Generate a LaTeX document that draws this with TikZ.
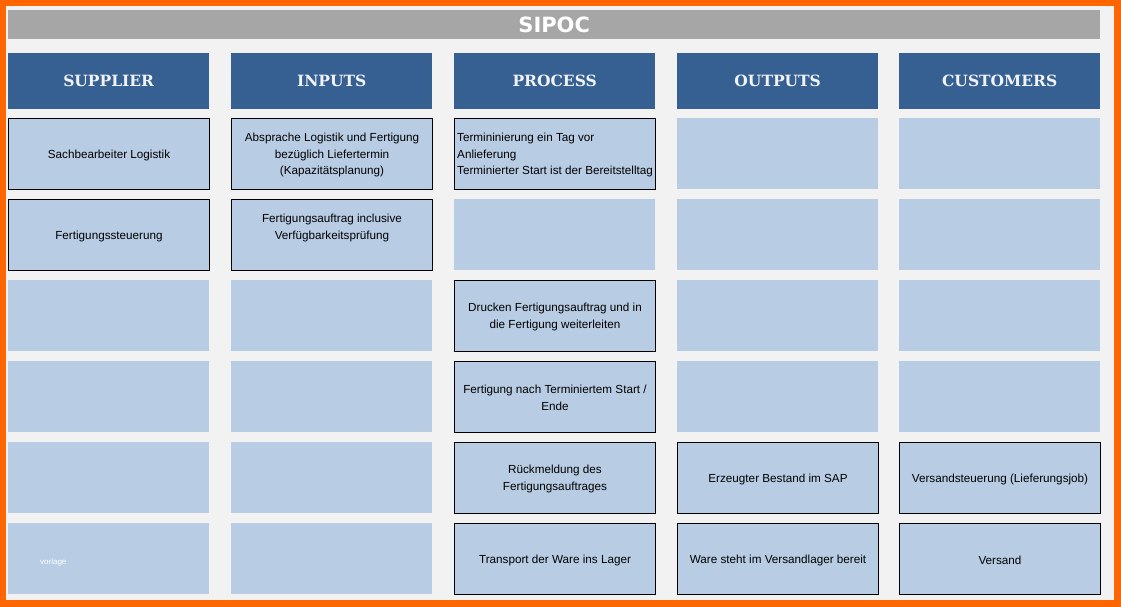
\documentclass[tikz,border=0pt]{standalone}
\usepackage{fontspec}
\setmainfont{Liberation Sans}
\newfontfamily\hdrfont{DejaVu Serif}
\newfontfamily\ttlfont{DejaVu Sans}
\definecolor{orangeb}{RGB}{255,102,0}
\definecolor{bgc}{RGB}{242,242,242}
\definecolor{titlec}{RGB}{166,166,166}
\definecolor{hdrc}{RGB}{55,96,146}
\definecolor{cellc}{RGB}{184,204,228}
\definecolor{hdrtxt}{RGB}{240,244,250}
\begin{document}
\begin{tikzpicture}[x=1pt,y=-1pt,
  hdr/.style={fill=hdrc,draw=none,minimum width=201pt,minimum height=56pt,inner sep=0pt,anchor=north west,
    text=hdrtxt,font=\hdrfont\bfseries\fontsize{15.5}{17}\selectfont},
  cell/.style={fill=cellc,draw=none,minimum width=201pt,minimum height=71pt,inner sep=0pt,anchor=north west},
  bcell/.style={cell,draw=black,line width=1pt},
  txt/.style={font=\fontsize{11.7}{16.5}\selectfont,align=center,text=black,inner sep=0pt}]
\useasboundingbox (0,0) rectangle (1121,607);
\fill[orangeb] (0,0) rectangle (1121,607);
\fill[bgc] (6,6) rectangle (1114,600);
% title
\node[fill=titlec,minimum width=1092pt,minimum height=29pt,inner sep=0pt,anchor=north west,
  text=white,font=\ttlfont\bfseries\fontsize{21}{22}\selectfont] (title) at (8,10) {SIPOC};
% headers
\node[hdr] (h1) at (8,53) {SUPPLIER};
\node[hdr] (h2) at (231,53) {INPUTS};
\node[hdr] (h3) at (454,53) {PROCESS};
\node[hdr] (h4) at (677,53) {OUTPUTS};
\node[hdr] (h5) at (899,53) {CUSTOMERS};
% row 1
\node[bcell] (c11) at (8,118) {};
\node[bcell] (c12) at (231,118) {};
\node[bcell] (c13) at (454,118) {};
\node[cell] (c14) at (677,118) {};
\node[cell] (c15) at (899,118) {};
% row 2
\node[bcell] (c21) at (8,199) {};
\node[bcell] (c22) at (231,199) {};
\node[cell] (c23) at (454,199) {};
\node[cell] (c24) at (677,199) {};
\node[cell] (c25) at (899,199) {};
% row 3
\node[cell] (c31) at (8,280) {};
\node[cell] (c32) at (231,280) {};
\node[bcell] (c33) at (454,280) {};
\node[cell] (c34) at (677,280) {};
\node[cell] (c35) at (899,280) {};
% row 4
\node[cell] (c41) at (8,361) {};
\node[cell] (c42) at (231,361) {};
\node[bcell] (c43) at (454,361) {};
\node[cell] (c44) at (677,361) {};
\node[cell] (c45) at (899,361) {};
% row 5
\node[cell] (c51) at (8,442) {};
\node[cell] (c52) at (231,442) {};
\node[bcell] (c53) at (454,442) {};
\node[bcell] (c54) at (677,442) {};
\node[bcell] (c55) at (899,442) {};
% row 6
\node[cell] (c61) at (8,523) {};
\node[cell] (c62) at (231,523) {};
\node[bcell] (c63) at (454,523) {};
\node[bcell] (c64) at (677,523) {};
\node[bcell] (c65) at (899,523) {};
% texts
\node[txt] (t11) at ([yshift=-1pt]c11.center) {Sachbearbeiter Logistik};
\node[txt] (t12) at ([yshift=-1pt]c12.center) {Absprache Logistik und Fertigung\\bezüglich Liefertermin\\(Kapazitätsplanung)};
\node[txt,align=left,anchor=west] (t13) at ([xshift=3pt,yshift=-1pt]c13.west) {Termininierung ein Tag vor\\Anlieferung\\Terminierter Start ist der Bereitstelltag};
\node[txt] (t21) at ([yshift=-1pt]c21.center) {Fertigungssteuerung};
\node[txt] (t22) at ([yshift=7pt]c22.center) {Fertigungsauftrag inclusive\\Verfügbarkeitsprüfung};
\node[txt] (t33) at ([yshift=-1pt]c33.center) {Drucken Fertigungsauftrag und in\\die Fertigung weiterleiten};
\node[txt] (t43) at ([yshift=-1pt]c43.center) {Fertigung nach Terminiertem Start /\\Ende};
\node[txt] (t53) at ([yshift=-1pt]c53.center) {Rückmeldung des\\Fertigungsauftrages};
\node[txt] (t54) at ([yshift=-1pt]c54.center) {Erzeugter Bestand im SAP};
\node[txt] (t55) at ([yshift=-1pt]c55.center) {Versandsteuerung (Lieferungsjob)};
\node[txt] (t63) at ([yshift=-1pt]c63.center) {Transport der Ware ins Lager};
\node[txt] (t64) at ([yshift=-1pt]c64.center) {Ware steht im Versandlager bereit};
\node[txt] (t65) at ([yshift=-1pt]c65.center) {Versand};
\node[txt,text=white,font=\fontsize{8}{9}\selectfont,anchor=west] (wm) at (40,562) {vorlage};
\end{tikzpicture}
\end{document}
